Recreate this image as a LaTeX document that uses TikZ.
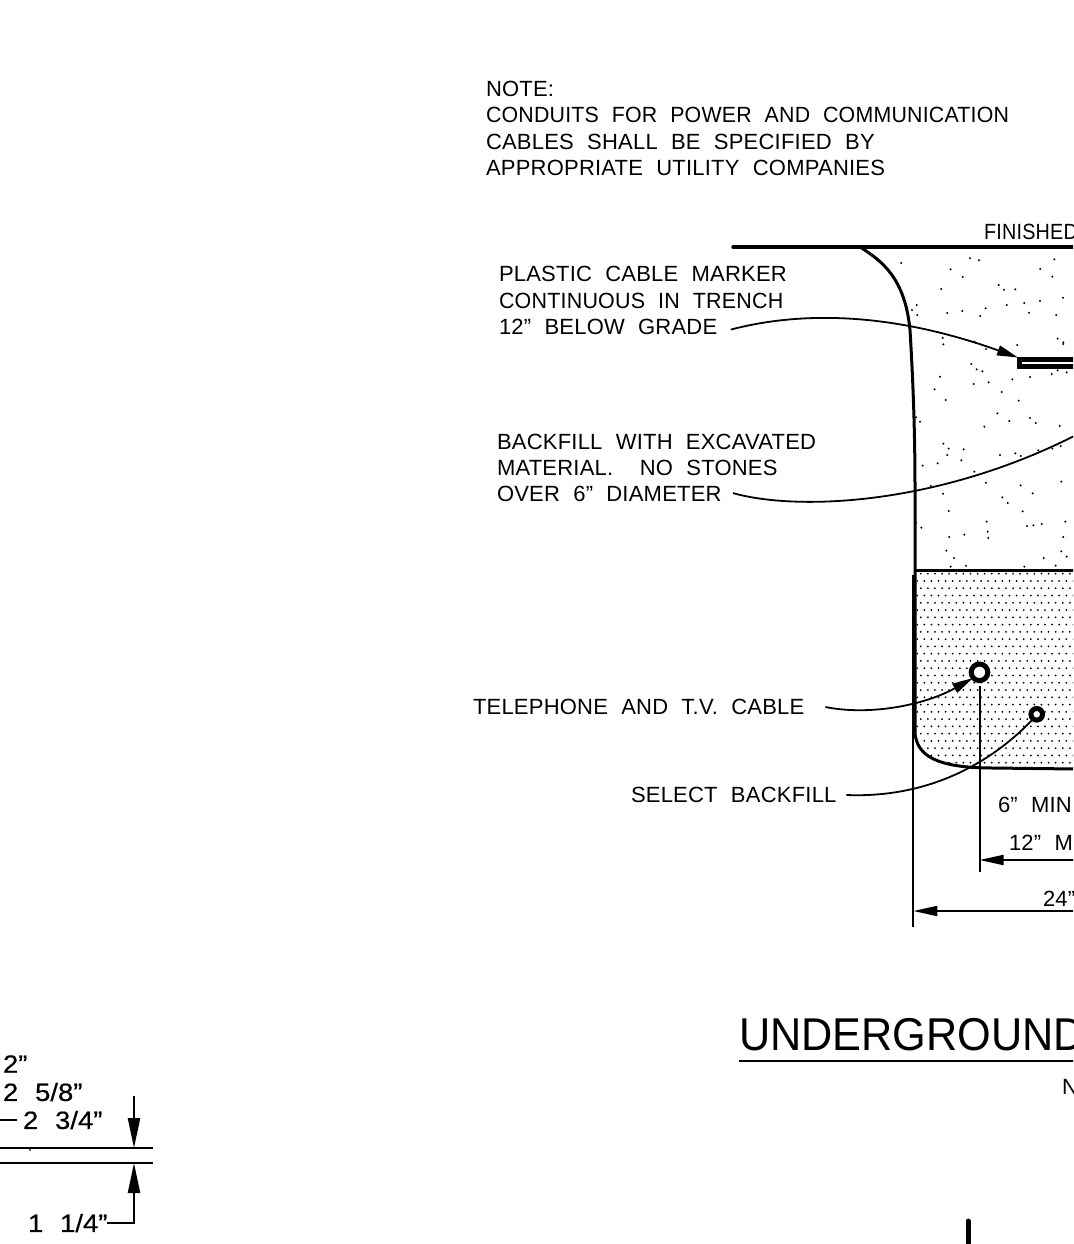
\documentclass[tikz,border=0pt]{standalone}
\usepackage{fontspec}
\setmainfont[WordSpace=2.1,LetterSpace=1]{Liberation Sans}
\newfontfamily\headfont[FakeStretch=0.94]{Liberation Sans}
\newfontfamily\sizefont[FakeBold=0.5,FakeStretch=1.1,WordSpace=2.2]{Liberation Sans}
\usepackage{tikz}
\usetikzlibrary{arrows.meta}
\usetikzlibrary{positioning}

\begin{document}
\begin{tikzpicture}[x=1pt,y=-1pt]
    \tikzstyle{every node}=[inner sep = 0pt, outer sep = 0pt]
    \tikzstyle{callout}=[anchor = west, align = left, font = \fontsize{22}{26.3}\selectfont]
    \tikzstyle{sizing}=[anchor = west, font = \sizefont\fontsize{25}{26}\selectfont]
    \tikzstyle{leader}=[line width = 1.8pt]
    \tikzstyle{dimline}=[line width = 2pt]
    \tikzstyle{wall}=[line width = 3pt]
    \tikzstyle{grain}=[black]
    \tikzset{
        dimtip/.style={-{Triangle[length=24pt,width=10pt]}},
        bigtip/.style={-{Triangle[length=30pt,width=12pt]}},
        leadtip/.style={-{Triangle[length=21pt,width=10pt]}}
    }
    \useasboundingbox (0,0) rectangle (1073,1244);
    \clip (0,0) rectangle (1073,1244);

    \node[callout] (note) at (486,128.5) {NOTE:\\{\addfontfeature{FakeStretch=0.97}CONDUITS FOR POWER AND COMMUNICATION}\\CABLES SHALL BE SPECIFIED BY\\APPROPRIATE UTILITY COMPANIES};
    \node[callout] (finished) at (984,232) {\addfontfeature{FakeStretch=0.9}FINISHED};
    \node[callout] (marker) at (499,300.5) {PLASTIC CABLE MARKER\\{\addfontfeature{FakeStretch=0.975}CONTINUOUS IN TRENCH}\\12” BELOW GRADE};
    \node[callout] (excavated) at (497,468) {BACKFILL WITH EXCAVATED\\MATERIAL.\ \ NO STONES\\OVER 6” DIAMETER};
    \node[callout] (telephone) at (473,707) {TELEPHONE AND T.V. CABLE};
    \node[callout] (select) at (631,795) {SELECT BACKFILL};
    \node[callout] (sixmin) at (998,805) {6” MIN};
    \node[callout] (twelvemin) at (1009,843) {12” MIN};
    \node[callout] (twentyfour) at (1043,899) {24”};
    \node[anchor = west, font = \headfont\fontsize{46}{50}\selectfont] (title) at (739,1035) {UNDERGROUND};
    \node[callout] (scale) at (1062,1087) {NTS};

    \node[sizing] (sizea) at (3,1064) {2”};
    \node[sizing] (sizeb) at (3,1092) {2 5/8”};
    \node[sizing] (sizec) at (23,1120) {2 3/4”};
    \node[sizing] (sized) at (28,1223) {1 1/4”};

    \coordinate (markertip) at (1018,357.5);
    \coordinate (stoneend) at (1095,425);
    \coordinate (phonetip) at (973,678);
    \coordinate (selectend) at (1034,718);
    \coordinate (edgeleft) at (0,1120);
    \coordinate (upperdim) at (134,1148);
    \coordinate (lowerdim) at (134,1163);
    \coordinate (sizetop) at (134,1096);

    \draw[line width = 3.5pt, line cap = round] (733,247) -- (1073,247);
    \draw[wall] (860,247) .. controls (882,261) and (905,278) .. (910,330) .. controls (913,380) and (915,430) .. (915,490) -- (915,733) .. controls (917,755) and (935,768) .. (993,768) -- (1075,769);
    \draw[wall] (915,570) -- (1075,570);

    \begin{scope}
        \clip (915,571) -- (915,733) .. controls (917,755) and (935,768) .. (993,768) -- (1075,769) -- (1075,571) -- cycle;
        \foreach \row in {0,...,26} {
            \pgfmathsetmacro{\rowy}{573.7+7.27*\row}
            \pgfmathsetmacro{\rowx}{917.2+3.55*mod(\row+1,2)}
            \foreach \col in {0,...,22} {
                \fill[grain] ({\rowx+7.1*\col},\rowy) circle [radius = 1];
            }
        }
    \end{scope}

    \begin{scope}[shift={(720,210)},scale=1/3]
        \foreach \grainx/\grainy in {544/159,750/145,777/151,1003/148,692/178,728/201,961/177,997/200,836/225,852/239,886/238,664/237,1029/263,913/279,960/273,860/285,590/285,576/300,592/315,682/309,727/303,797/295,781/318,927/308,1009/315,668/384,670/403,763/395,798/417,892/405,1013/386,1030/397,1030/402,754/462,770/478,787/484,995/492,1013/481,1040/487,660/500,644/538,761/522,806/517,877/508,930/501,845/546,677/570,896/572,832/610,868/633,930/624,947/639,793/650,1019/648,588/622,600/635,670/701,686/716,731/718,682/735,724/751,840/735,886/730,902/738,955/721,997/716,1022/708,653/760,608/767,763/785,632/828,669/851,798/818,902/826,938/850,1024/815,847/862,863/879,686/903,908/904,800/935,588/938,604/953,921/948,940/946,965/942,1036/935,803/965,805/984,688/981,733/974,1030/981,679/1022,702/1044,1024/1024,1040/1040,971/1044,692/1070,738/1067,913/1070,1007/1067} {
            \fill[grain] (\grainx,\grainy) circle [radius = 3.4];
        }
    \end{scope}

    \draw[line width = 4.8pt] (1090,359.2) -- (1019.4,359.2) -- (1019.4,366.5) -- (1090,366.5);
    \node[circle, draw, line width = 5pt, minimum size = 16.6pt, fill = white] (phone) at (979.5,672.3) {};
    \node[circle, draw, line width = 5pt, minimum size = 11.6pt, fill = white] (conduit) at (1036.7,714.3) {};

    \draw[leader, leadtip] ([shift={(-56,-5)}]marker.south east) .. controls (790,314) and (880,308) .. (markertip);
    \draw[leader] ([shift={(-83,-9)}]excavated.south east) .. controls (800,512) and (950,505) .. (stoneend);
    \draw[leader, leadtip] ([xshift=21pt]telephone.east) .. controls (870,716) and (925,705) .. (phonetip);
    \draw[leader] ([xshift=10pt]select.east) .. controls (920,798) and (985,770) .. (selectend);

    \draw[dimline] (phone.south |- 0,686) -- (phone.south |- 0,872);
    \draw[dimline] (913.3,575) -- (913.3,926.5);
    \draw[dimline, dimtip] (1075,860) -- (979.5,860);
    \draw[dimline, dimtip] (1075,911) -- (913.3,911);

    \draw[line width = 2.6pt] (739,1061) -- (1075,1061);
    \draw[line width = 5pt, line cap = round] (968,1221) -- (968,1246);

    \draw[line width = 2.4pt] (edgeleft) -- ([xshift=-6pt]sizec.west);
    \draw[line width = 2.4pt] (0,1148) -- (153,1148);
    \draw[line width = 2.4pt] (0,1163) -- (153,1163);
    \fill (30,1149.8) circle [radius = 1];
    \draw[line width = 2.2pt, bigtip] (sizetop) -- (upperdim);
    \draw[line width = 2.2pt, bigtip] (sized.east) -| (lowerdim);
\end{tikzpicture}
\end{document}
